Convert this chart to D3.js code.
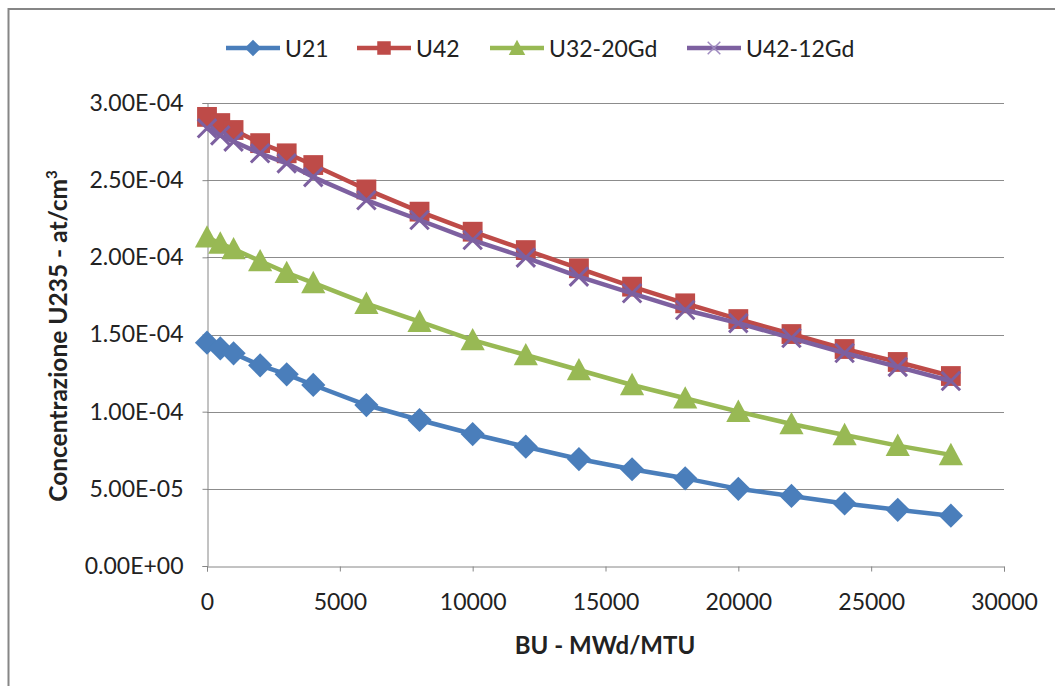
<!DOCTYPE html>
<html>
<head>
<meta charset="utf-8">
<script src="https://cdn.jsdelivr.net/npm/d3@7"></script>
<style>
  body { margin: 0; background: #fff; }
  svg text { font-family: Lato, "Open Sans", sans-serif; fill: #222; }
</style>
</head>
<body>
<div id="chart"></div>
<script>
// burnup steps (MWd/MTU)
const burnup = [0, 500, 1000, 2000, 3000, 4000, 6000, 8000, 10000, 12000, 14000,
                16000, 18000, 20000, 22000, 24000, 26000, 28000];

// U235 concentration, at/cm3
const u21 = [1.447e-4, 1.41e-4, 1.378e-4, 1.30e-4, 1.242e-4, 1.173e-4, 1.043e-4, 0.946e-4,
             0.855e-4, 0.773e-4, 0.693e-4, 0.627e-4, 0.568e-4, 0.50e-4, 0.454e-4, 0.405e-4,
             0.364e-4, 0.326e-4];
const u42 = [2.91e-4, 2.87e-4, 2.825e-4, 2.74e-4, 2.674e-4, 2.598e-4, 2.44e-4, 2.296e-4,
             2.166e-4, 2.047e-4, 1.929e-4, 1.81e-4, 1.702e-4, 1.60e-4, 1.503e-4, 1.406e-4,
             1.322e-4, 1.231e-4];
const u32gd = [2.13e-4, 2.09e-4, 2.054e-4, 1.976e-4, 1.90e-4, 1.834e-4, 1.70e-4, 1.583e-4,
               1.464e-4, 1.367e-4, 1.27e-4, 1.173e-4, 1.087e-4, 1.0e-4, 0.92e-4, 0.849e-4,
               0.78e-4, 0.72e-4];
const u42gd = [2.836e-4, 2.79e-4, 2.75e-4, 2.674e-4, 2.609e-4, 2.52e-4, 2.37e-4, 2.242e-4,
               2.112e-4, 1.998e-4, 1.875e-4, 1.767e-4, 1.659e-4, 1.574e-4, 1.477e-4, 1.38e-4,
               1.29e-4, 1.199e-4];

const seriesNames = ["U21", "U42", "U32-20Gd", "U42-12Gd"];
const xTicks = [0, 5000, 10000, 15000, 20000, 25000, 30000];
const yTicks = [0, 5e-5, 1e-4, 1.5e-4, 2e-4, 2.5e-4, 3e-4];

const width = 1055, height = 686;
const margin = { left: 207, right: 51, top: 103, bottom: 120 };

const series = [
  { name: seriesNames[0], values: u21,   color: "#4a7ebb", marker: "diamond" },
  { name: seriesNames[1], values: u42,   color: "#be4b48", marker: "square" },
  { name: seriesNames[2], values: u32gd, color: "#98b954", marker: "triangle" },
  { name: seriesNames[3], values: u42gd, color: "#7d60a0", marker: "cross" }
];

const svg = d3.select("#chart").append("svg")
  .attr("width", width)
  .attr("height", height);

// chart border (only top/left visible, rest cropped)
svg.append("rect")
  .attr("x", 8.5).attr("y", 9)
  .attr("width", width + 20).attr("height", height + 20)
  .attr("fill", "none")
  .attr("stroke", "#868686")
  .attr("stroke-width", 2);

const x = d3.scaleLinear().domain([0, 30000]).range([margin.left, width - margin.right]);
const y = d3.scaleLinear().domain([0, 3e-4]).range([height - margin.bottom, margin.top]);

// gridlines
svg.append("g")
  .selectAll("line")
  .data(yTicks.slice(1))
  .join("line")
  .attr("x1", margin.left).attr("x2", width - margin.right)
  .attr("y1", d => Math.round(y(d)) + 0.5).attr("y2", d => Math.round(y(d)) + 0.5)
  .attr("stroke", "#8c8c8c");

// axes
const xAxis = svg.append("g")
  .attr("transform", `translate(0,${y(0) + 0.5})`)
  .call(d3.axisBottom(x).tickValues(xTicks).tickFormat(d3.format("d")).tickSize(5).tickPadding(22));

const yAxis = svg.append("g")
  .attr("transform", `translate(${x(0) + 0.5},0)`)
  .call(d3.axisLeft(y).tickValues(yTicks)
    .tickFormat(d => d === 0 ? "0.00E+00" : d.toExponential(2).toUpperCase().replace(/E([+-])(\d)$/, "E$10$2"))
    .tickSize(5).tickPadding(19));

[xAxis, yAxis].forEach(g => {
  g.select(".domain").attr("stroke", "#868686");
  g.selectAll(".tick line").attr("stroke", "#868686");
  g.selectAll(".tick text").attr("font-size", 23).attr("fill", "#222");
});

// axis titles
svg.append("text")
  .attr("x", 605).attr("y", 654)
  .attr("text-anchor", "middle")
  .attr("font-size", 24).attr("font-weight", "bold")
  .text("BU - MWd/MTU");

const yTitle = svg.append("text")
  .attr("transform", "translate(67,336) rotate(-90)")
  .attr("text-anchor", "middle")
  .attr("font-size", 24.5).attr("font-weight", "bold");
yTitle.append("tspan").text("Concentrazione U235 - at/cm");
yTitle.append("tspan").attr("dy", -10).attr("font-size", 15).text("3");

// marker drawing
function drawMarker(g, type, color, size) {
  if (type === "diamond") {
    const s = size * 0.55;
    g.append("path").attr("d", `M0,${-s}L${s},0L0,${s}L${-s},0Z`).attr("fill", color);
  } else if (type === "square") {
    const s = size * 0.45;
    g.append("rect").attr("x", -s).attr("y", -s).attr("width", 2 * s).attr("height", 2 * s).attr("fill", color);
  } else if (type === "triangle") {
    const s = size * 0.55;
    g.append("path").attr("d", `M0,${-s}L${s},${s * 0.85}L${-s},${s * 0.85}Z`).attr("fill", color);
  } else {
    const s = size * 0.42;
    g.append("path").attr("d", `M${-s},${-s}L${s},${s}M${-s},${s}L${s},${-s}`)
      .attr("stroke", color).attr("stroke-width", 3).attr("fill", "none");
  }
}

const line = d3.line().x(d => x(d[0])).y(d => y(d[1]));

series.forEach(s => {
  const pts = burnup.map((b, i) => [b, s.values[i]]);
  const g = svg.append("g");
  g.append("path")
    .datum(pts)
    .attr("d", line)
    .attr("fill", "none")
    .attr("stroke", s.color)
    .attr("stroke-width", 4.5)
    .attr("stroke-linejoin", "round");
  g.selectAll("g.pt")
    .data(pts)
    .join("g")
    .attr("class", "pt")
    .attr("transform", d => `translate(${x(d[0])},${y(d[1])})`)
    .each(function() { drawMarker(d3.select(this), s.marker, s.color, 22); });
});

// legend
const legendX = [226, 357, 490, 687];
series.forEach((s, i) => {
  const g = svg.append("g").attr("transform", `translate(${legendX[i]},48)`);
  g.append("line").attr("x1", 0).attr("x2", 54).attr("stroke", s.color).attr("stroke-width", 4.5);
  const m = g.append("g").attr("transform", "translate(27,0)");
  drawMarker(m, s.marker, s.color, 15);
  if (s.marker === "cross") m.select("path").attr("stroke-width", 1.5).attr("stroke", "#a08cc0");
  g.append("text").attr("x", 59).attr("y", 8.5).attr("font-size", 23).text(s.name);
});
</script>
</body>
</html>
